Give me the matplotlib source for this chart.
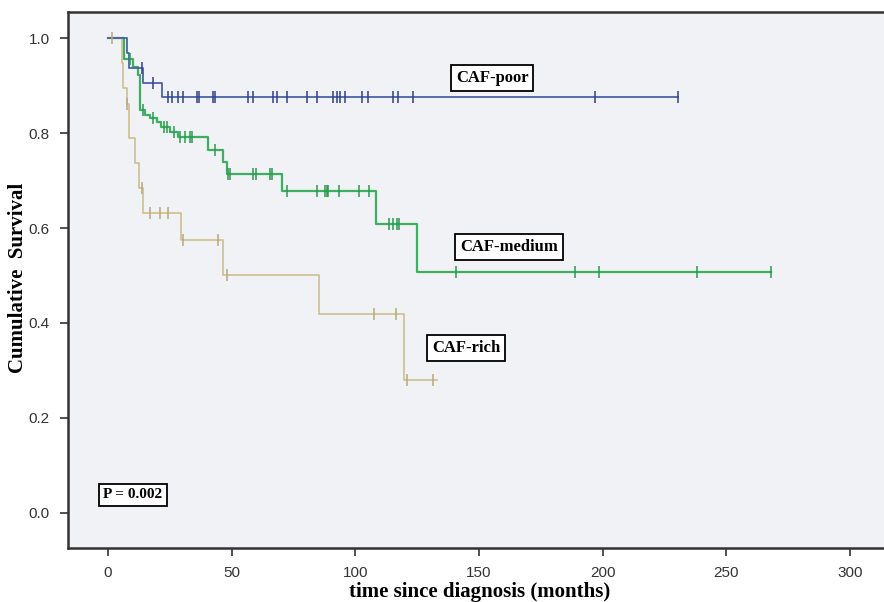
import numpy as np
import matplotlib.pyplot as plt

# Kaplan-Meier steps: time (months) and survival after each step
poor_t = [0, 7.5, 8.6, 14.3, 21.7]
poor_s = [1.0, 0.969, 0.938, 0.906, 0.875]
poor_end = 230.5
poor_cens = [13.6, 18.3, 24.2, 25.9, 28.4, 30.2, 36.1, 36.9, 42.6, 43.2, 56.7, 58.8,
             66.6, 68.4, 72.3, 80.6, 84.4, 91.1, 92.4, 93.8, 95.8, 102.6, 105.3,
             115.4, 117.4, 123.5, 197.0, 230.5]

med_t = [0, 6.5, 10.2, 12.0, 13.0, 15.0, 17.0, 19.7, 21.5, 25.0, 28.4, 40.6, 46.6,
         48.0, 70.2, 108.4, 124.8]
med_s = [1.0, 0.957, 0.94, 0.922, 0.848, 0.838, 0.831, 0.824, 0.813, 0.803, 0.792,
         0.764, 0.74, 0.714, 0.679, 0.608, 0.507]
med_end = 268.0
med_cens = [8.9, 14.0, 18.0, 22.5, 24.0, 26.5, 29.0, 31.0, 33.0, 34.0, 43.3, 48.5,
            49.3, 58.5, 59.8, 65.5, 66.2, 72.5, 84.6, 87.7, 88.4, 89.1, 93.5, 101.6,
            105.7, 113.8, 115.1, 116.7, 117.8, 140.7, 188.8, 198.7, 238.0, 268.0]

rich_t = [0, 5.5, 6.0, 7.5, 8.5, 11.0, 12.5, 14.3, 29.5, 46.6, 85.5, 119.7]
rich_s = [1.0, 0.947, 0.895, 0.862, 0.79, 0.737, 0.684, 0.632, 0.575, 0.501, 0.418, 0.28]
rich_end = 132.9
rich_cens = [1.5, 7.8, 13.6, 17.0, 21.0, 24.4, 30.5, 44.6, 48.0, 107.6, 116.5, 120.8, 131.6]

groups = ['CAF-rich', 'CAF-medium', 'CAF-poor']
colors = {'CAF-poor': '#4d62a6', 'CAF-medium': '#3fae62', 'CAF-rich': '#cdbf8e'}
tick_colors = {'CAF-poor': '#2f418a', 'CAF-medium': '#2a9a4c', 'CAF-rich': '#b8a878'}
data = {
    'CAF-poor': (poor_t, poor_s, poor_end, poor_cens),
    'CAF-medium': (med_t, med_s, med_end, med_cens),
    'CAF-rich': (rich_t, rich_s, rich_end, rich_cens),
}
widths = {'CAF-poor': 1.3, 'CAF-medium': 1.6, 'CAF-rich': 1.2}


def surv_at(t, s, x):
    idx = np.searchsorted(np.array(t), np.array(x), side='right') - 1
    return np.array(s)[idx]


fig = plt.figure(figsize=(8.84, 6.02), dpi=100)
ax = fig.add_axes([68 / 884, 54 / 602, 816 / 884, 536 / 602])
ax.set_facecolor('#f0f2f5')

for g in groups:
    t, s, end, cens = data[g]
    ax.step(list(t) + [end], list(s) + [s[-1]], where='post',
            color=colors[g], lw=widths[g], zorder=3)
    ax.plot(cens, surv_at(t, s, cens), ls='none', marker='|', ms=8, mew=1.1,
            color=tick_colors[g], zorder=4)

ax.set_xlim(-16.2, 313.8)
ax.set_ylim(-0.074, 1.055)
ax.set_xticks([0, 50, 100, 150, 200, 250, 300])
ax.set_yticks([0.0, 0.2, 0.4, 0.6, 0.8, 1.0])
ax.set_yticklabels(['0.0', '0.2', '0.4', '0.6', '0.8', '1.0'])
ax.tick_params(direction='out', length=6, width=1.2, color='#333333',
               labelsize=11, labelcolor='#333333', pad=7)
for lab in ax.get_xticklabels() + ax.get_yticklabels():
    lab.set_family('Liberation Sans')

for side in ['left', 'bottom', 'top']:
    ax.spines[side].set_color('#333333')
    ax.spines[side].set_linewidth(1.8)
ax.spines['right'].set_visible(False)

ax.set_xlabel('time since diagnosis (months)', family='Liberation Serif',
              fontweight='bold', fontsize=15, va='center')
ax.xaxis.set_label_coords((480 - 68) / 816, -44 / 536)
ax.set_ylabel('Cumulative  Survival', family='Liberation Serif',
              fontweight='bold', fontsize=15, va='center')
ax.yaxis.set_label_coords(-50 / 816, (602 - 54 - 278) / 536)

box = dict(boxstyle='square,pad=0.3', fc='white', ec='black', lw=1.3)
ax.text(155.3, 0.916, 'CAF-poor', ha='center', va='center', family='Liberation Serif',
        fontweight='bold', fontsize=12, bbox=box, zorder=5)
ax.text(162, 0.56, 'CAF-medium', ha='center', va='center', family='Liberation Serif',
        fontweight='bold', fontsize=12, bbox=box, zorder=5)
ax.text(144.8, 0.347, 'CAF-rich', ha='center', va='center', family='Liberation Serif',
        fontweight='bold', fontsize=12, bbox=box, zorder=5)
ax.text(10, 0.038, 'P = 0.002', ha='center', va='center', family='Liberation Serif',
        fontweight='bold', fontsize=11, bbox=box, zorder=5)

fig.savefig('out.png', dpi=100)
